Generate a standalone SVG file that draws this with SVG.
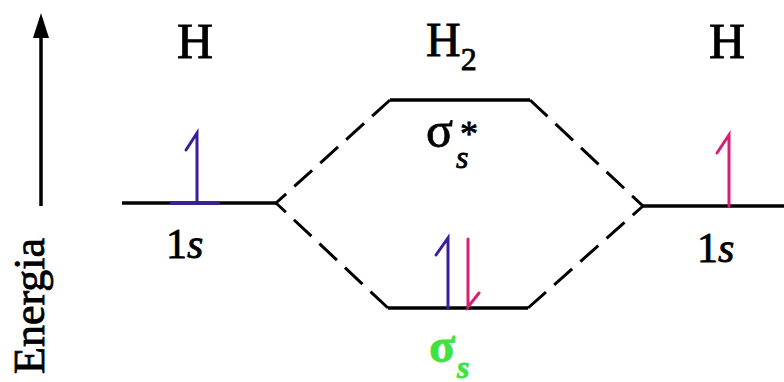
<svg xmlns="http://www.w3.org/2000/svg" width="784" height="382" viewBox="0 0 784 382">
<style>
text{font-family:'Liberation Serif','Times New Roman','DejaVu Serif',serif;fill:#000;stroke:#000;stroke-width:0.8}
.it{font-style:italic}
.lvl{stroke:#000;stroke-width:3.5;fill:none}
.dash{stroke:#000;stroke-width:3;fill:none;stroke-dasharray:24 11}
.blue{stroke:#3a1c9c;stroke-width:3;fill:none;stroke-linecap:round}
.pink{stroke:#d81f74;stroke-width:3;fill:none;stroke-linecap:round}
.green{fill:#3fe23f;stroke:#3fe23f;font-weight:bold}
</style>
<rect width="784" height="382" fill="#fff"/>
<g id="energy-axis">
  <line x1="41" y1="35" x2="41" y2="206" stroke="#000" stroke-width="3.5"/>
  <polygon points="41,13 33,38 49,38" fill="#000"/>
  <text font-size="44" transform="translate(44,374) rotate(-90)">Energia</text>
</g>
<g id="atom-left">
  <text x="195" y="58" font-size="50" text-anchor="middle">H</text>
  <line class="lvl" x1="122" y1="203" x2="276" y2="203"/>
  <line x1="170" y1="203" x2="220" y2="203" stroke="#3a1c9c" stroke-width="3.5"/>
  <polyline class="blue" points="186,150 197,133 197,203"/>
  <text x="166" y="258" font-size="42">1<tspan class="it">s</tspan></text>
</g>
<g id="molecule-H2">
  <text x="426" y="56" font-size="48">H<tspan font-size="32" dy="14">2</tspan></text>
  <g id="sigma-star">
    <line class="lvl" x1="390" y1="100" x2="530" y2="100"/>
    <text x="426" y="147" font-size="50">σ</text>
    <text class="it" x="456" y="168" font-size="32">s</text>
    <text x="460" y="146" font-size="36">*</text>
  </g>
  <g id="sigma">
    <line class="lvl" x1="388" y1="308" x2="528" y2="308"/>
    <polyline class="blue" points="436,255 448,238 448,308"/>
    <polyline class="pink" points="468,239 468,307 479,293"/>
    <text class="green" x="429" y="362" font-size="48">σ</text>
    <text class="green it" x="457" y="378" font-size="32">s</text>
  </g>
</g>
<g id="atom-right">
  <text x="727" y="58" font-size="50" text-anchor="middle">H</text>
  <line class="lvl" x1="643" y1="206" x2="784" y2="206"/>
  <polyline class="pink" points="717,153 729,135 729,206"/>
  <text x="697" y="262" font-size="42">1<tspan class="it">s</tspan></text>
</g>
<g id="connectors">
  <line class="dash" x1="390" y1="100" x2="276" y2="203"/>
  <line class="dash" x1="388" y1="308" x2="276" y2="203"/>
  <line class="dash" x1="530" y1="100" x2="643" y2="206"/>
  <line class="dash" x1="528" y1="308" x2="643" y2="206"/>
</g>
</svg>
